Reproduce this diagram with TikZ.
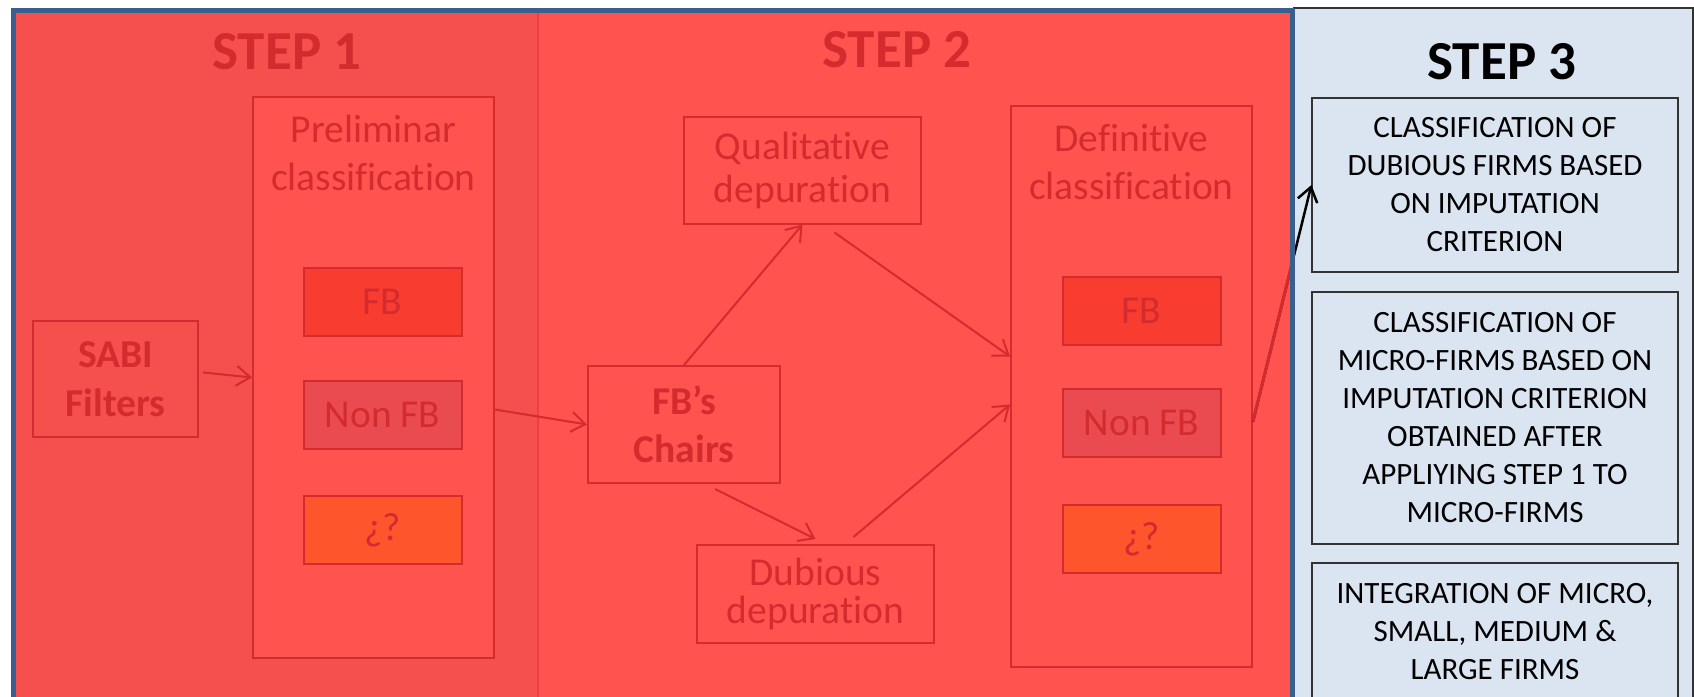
\documentclass[tikz,border=0pt]{standalone}
\usepackage{fontspec}
\setmainfont{Carlito}[Ligatures=NoCommon]
\usetikzlibrary{positioning,arrows.meta}
\definecolor{stepone}{HTML}{F5504D}
\definecolor{steptwo}{HTML}{FF5350}
\definecolor{fbred}{HTML}{F83C30}
\definecolor{nonfbred}{HTML}{EA4B50}
\definecolor{unkred}{HTML}{FF552D}
\definecolor{darkred}{HTML}{D42B2E}
\definecolor{panelblue}{HTML}{DBE5F1}
\definecolor{frameblue}{HTML}{3B5F8C}
\begin{document}
\begin{tikzpicture}[x=1pt, y=-1pt, >={Straight Barb[length=14pt,width=20pt]},
  redbox/.style={rectangle, draw=darkred, line width=2pt, inner sep=0pt, align=center, text=darkred, font=\fontsize{39.5}{48}\selectfont},
  redlabel/.style={inner sep=0pt, align=center, text=darkred, font=\fontsize{39.5}{48}\selectfont},
  classbox/.style={redbox, fill=steptwo, minimum width=241pt, minimum height=561pt},
  catbox/.style={redbox, minimum width=158pt, minimum height=68pt},
  stepbox/.style={rectangle, draw=black!80, line width=1.2pt, fill=panelblue, inner sep=0pt, minimum width=366pt, align=center, font=\fontsize{31}{38}\selectfont},
  steptitle/.style={inner sep=0pt, font=\fontsize{55}{66}\selectfont\bfseries},
  flow/.style={->, draw=darkred, line width=2pt}]
% backgrounds
\path[use as bounding box, clip] (0,0) rectangle (1694,696);
\fill[white] (0,0) rectangle (1694,696);
\fill[panelblue] (1293,8) rectangle (1693,720);
\draw[black!80, line width=1.5pt] (1293,8) -- (1693,8) -- (1693,720);
\fill[steptwo] (13.5,10) rectangle (1292.5,720);
\fill[stepone] (13.5,10) rectangle (538,720);
\draw[darkred!40!stepone, line width=1.5pt] (538,10) -- (538,720);
% titles
\node[steptitle, text=darkred] (title1) at (287,52) {STEP 1};
\node[steptitle, text=darkred] (title2) at (897,50) {STEP 2};
\node[steptitle] (title3) at (1502,62) {STEP 3};
% step 1
\node[redbox, font=\fontsize{39.5}{49}\selectfont\bfseries, minimum width=165pt, minimum height=116pt] (sabi) at (115.5,379) {SABI\\Filters};
\node[classbox] (prelim) at (373.5,377.5) {};
\node[redlabel, below=19pt of prelim.north] (prelimtext) {Preliminar\\classification};
\node[catbox, fill=fbred] (fb1) at (382.5,301.5) {FB};
\node[catbox, fill=nonfbred] (nonfb1) at (382.5,414.5) {Non FB};
\node[catbox, fill=unkred] (unk1) at (382.5,530) {¿?};
% step 2
\node[redbox, minimum width=237pt, minimum height=107pt, font=\fontsize{39.5}{43}\selectfont] (qual) at (802.5,170) {Qualitative\\depuration};
\node[redbox, font=\fontsize{39.5}{48}\selectfont\bfseries, minimum width=192pt, minimum height=117pt] (chairs) at (684,424.5) {FB’s\\Chairs};
\node[redbox, minimum width=237pt, minimum height=98pt, font=\fontsize{39.5}{38}\selectfont] (dub) at (815.5,594) {Dubious\\depuration};
\node[classbox] (defin) at (1131.5,386.5) {};
\node[redlabel, below=19pt of defin.north] (defintext) {Definitive\\classification};
\node[catbox, fill=fbred] (fb2) at (1141.5,310.5) {FB};
\node[catbox, fill=nonfbred] (nonfb2) at (1141.5,423) {Non FB};
\node[catbox, fill=unkred] (unk2) at (1141.5,539) {¿?};
% step 3
\node[stepbox, minimum height=174pt] (s3a) at (1495,185) {CLASSIFICATION OF\\DUBIOUS FIRMS BASED\\ON IMPUTATION\\CRITERION};
\node[stepbox, minimum height=252pt] (s3b) at (1495,418) {CLASSIFICATION OF\\MICRO-FIRMS BASED ON\\IMPUTATION CRITERION\\OBTAINED AFTER\\APPLIYING STEP 1 TO\\MICRO-FIRMS};
\node[stepbox, minimum height=137pt] (s3c) at (1495,631.5) {INTEGRATION OF MICRO,\\SMALL, MEDIUM \&\\LARGE FIRMS};
% connectors
\draw[flow, shorten <=4pt] ([yshift=7pt]sabi.east) -- (prelim.west);
\draw[flow] ([yshift=-32pt]prelim.east) -- (chairs.west);
\draw[flow] (chairs.north) -- (qual.south);
\draw[flow] ([xshift=32pt,yshift=-8pt]qual.south) -- ([yshift=30pt]defin.west);
\draw[flow] ([xshift=31pt,yshift=-5pt]chairs.south) -- ([yshift=5pt]dub.north);
\draw[flow] ([xshift=38pt,yshift=7pt]dub.north) -- ([yshift=-18pt]defin.west);
\draw[->, line width=2.5pt] ([yshift=-35pt]defin.east) -- (s3a.west);
\begin{scope}
\clip (13.5,10) rectangle (1292.5,720);
\draw[darkred, line width=3pt] ([yshift=-35pt]defin.east) -- (s3a.west);
\end{scope}
% frame
\draw[frameblue, line width=5pt] (13.5,720) -- (13.5,10) -- (1292.5,10) -- (1292.5,720);
\end{tikzpicture}
\end{document}
